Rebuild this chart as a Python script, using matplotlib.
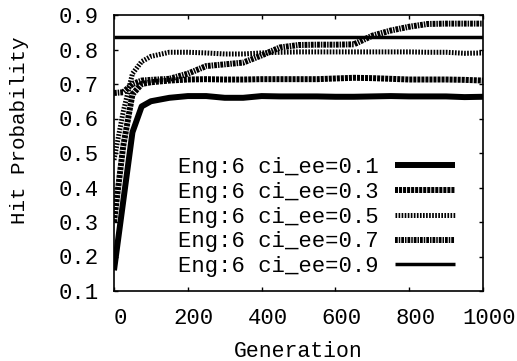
import matplotlib
matplotlib.use("Agg")
import matplotlib.pyplot as plt
import matplotlib.transforms as mtransforms

plt.rcParams['font.family'] = ['Liberation Mono', 'DejaVu Sans Mono']
plt.rcParams['lines.scale_dashes'] = False

generations = [0, 25, 50, 75, 100, 150, 200, 250, 300, 350, 400, 450, 500,
               550, 600, 650, 700, 750, 800, 850, 900, 950, 1000]

ci_01 = [0.16, 0.36, 0.56, 0.635, 0.65, 0.66, 0.665, 0.665, 0.66, 0.66, 0.665, 0.664,
         0.664, 0.664, 0.663, 0.663, 0.664, 0.665, 0.664, 0.664, 0.664, 0.662, 0.663]
ci_03 = [0.30, 0.52, 0.67, 0.70, 0.705, 0.71, 0.713, 0.714, 0.713, 0.713, 0.714, 0.714,
         0.714, 0.714, 0.716, 0.718, 0.717, 0.715, 0.713, 0.713, 0.713, 0.712, 0.710]
ci_05 = [0.48, 0.62, 0.73, 0.765, 0.78, 0.792, 0.792, 0.790, 0.787, 0.787, 0.790, 0.792,
         0.793, 0.793, 0.793, 0.793, 0.793, 0.793, 0.793, 0.792, 0.792, 0.789, 0.790]
ci_07 = [0.674, 0.676, 0.70, 0.71, 0.712, 0.715, 0.73, 0.752, 0.757, 0.762, 0.783, 0.806,
         0.813, 0.814, 0.814, 0.815, 0.84, 0.855, 0.866, 0.874, 0.875, 0.875, 0.875]
ci_09 = [0.835] * len(generations)

labels = ["Eng:6 ci_ee=0.1", "Eng:6 ci_ee=0.3", "Eng:6 ci_ee=0.5",
          "Eng:6 ci_ee=0.7", "Eng:6 ci_ee=0.9"]
xticks = [0, 200, 400, 600, 800, 1000]
yticks = [0.1, 0.2, 0.3, 0.4, 0.5, 0.6, 0.7, 0.8, 0.9]

fig = plt.figure(figsize=(5.17, 3.61), dpi=100)
ax = fig.add_axes([114 / 517, 1 - 291 / 361, 369 / 517, 276 / 361])

series = [ci_01, ci_03, ci_05, ci_07, ci_09]
styles = [
    dict(lw=4.3, ls='-'),
    dict(lw=4.3, ls=(0, (2.2, 0.7))),
    dict(lw=3.6, ls=(0, (1.2, 1.0))),
    dict(lw=4.3, ls=(0, (2.0, 0.7, 1.1, 0.7))),
    dict(lw=2.5, ls='-'),
]
for y, lab, st in zip(series, labels, styles):
    ax.plot(generations, y, color='black', label=lab, linewidth=st['lw'],
            linestyle=st['ls'], dash_capstyle='butt', solid_capstyle='butt')

ax.set_xlim(0, 1000)
ax.set_ylim(0.1, 0.9)
ax.set_xticks(xticks)
ax.set_xticklabels([str(t) for t in xticks])
ax.set_yticks(yticks)
ax.set_yticklabels([f"{t:.1f}" for t in yticks])
ax.tick_params(direction='in', length=3, width=1, top=True, right=True,
               labelsize=16, pad=11)
ax.tick_params(axis='x', pad=12)
for sp in ax.spines.values():
    sp.set_linewidth(1.2)

offset = mtransforms.ScaledTranslation(6 / 100, 0, fig.dpi_scale_trans)
for lbl in ax.get_xticklabels():
    lbl.set_transform(lbl.get_transform() + offset)

ax.set_xlabel("Generation", fontsize=15.5, labelpad=9)
ax.set_ylabel("Hit Probability", fontsize=15)
ax.yaxis.set_label_coords(-0.23, 0.583)

leg = ax.legend(loc='lower right', bbox_to_anchor=(0.925, 0.05), frameon=False,
                fontsize=16, markerfirst=False, handlelength=2.7,
                handletextpad=0.75, labelspacing=0.17, borderpad=0,
                borderaxespad=0)

fig.savefig("out.png", dpi=100)
